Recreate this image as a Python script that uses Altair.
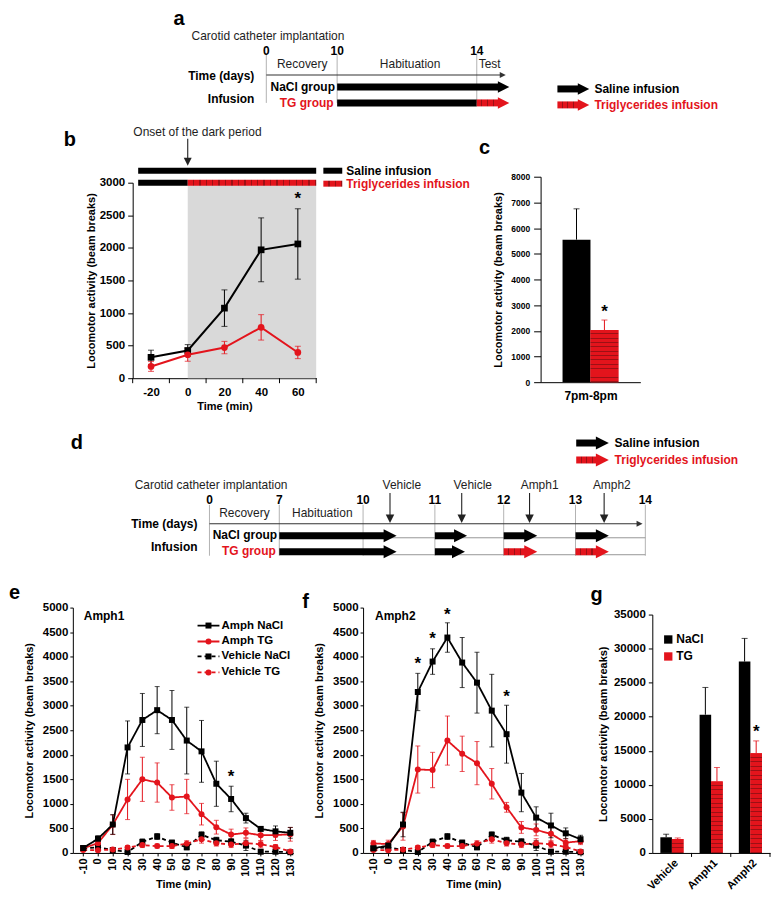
import altair as alt
import pandas as pd

RED = "#e3141c"
DARK = "#9c1015"
INK = "#1e1e1e"
FONT = "Liberation Sans"

# ======================= DATA =======================
# ---- panel a: schematic (days) ----
A_DAYS = [0, 10, 14]
A_TEXT = [  # text, day, lane, align, baseline, weight, size, colour
    ("a", -13.1, 0, "left", "top", "bold", 20, "black"),
    ("Carotid catheter implantation", -10.56, 27, "left", "middle", "normal", 12, INK),
    ("0", 0, 42, "center", "middle", "bold", 12, "black"),
    ("10", 10, 42, "center", "middle", "bold", 12, "black"),
    ("14", 14, 42, "center", "middle", "bold", 12, "black"),
    ("Recovery", 5.07, 55, "center", "middle", "normal", 12, INK),
    ("Habituation", 12.09, 55, "center", "middle", "normal", 12, INK),
    ("Test", 14.37, 55, "center", "middle", "normal", 12, INK),
    ("Time (days)", -1.69, 67, "right", "middle", "bold", 12, "black"),
    ("Infusion", -1.69, 90, "right", "middle", "bold", 12, "black"),
    ("NaCl group", 5.14, 78, "center", "middle", "bold", 12, "black"),
    ("TG group", 5.7, 94, "center", "middle", "bold", 12, RED),
    ("Saline infusion", 17.37, 80, "left", "middle", "bold", 12, "black"),
    ("Triglycerides infusion", 17.37, 96, "left", "middle", "bold", 12, RED),
]
A_GRID = [(0, 45, 94), (10, 45, 94), (14, 45, 94)]
A_TIMELINE = [(0, 14.83, 66)]
A_GUIDES = []
A_INJECT = []
A_ARROWS = [  # start, tip, lane, colour, head
    (10, 14.94, 78, "black", True),
    (10, 14, 94, "black", False),
    (14, 14.94, 94, "red", True),
    (16.31, 17.23, 80, "black", True),
    (16.31, 17.23, 96, "red", True),
]

# ---- panel d: schematic (days) ----
D_DAYS = [0, 7, 10, 11, 12, 13, 14]
D_TEXT = [
    ("d", -13.9, 61, "left", "middle", "bold", 20, "black"),
    ("Saline infusion", 13.56, 61, "left", "middle", "bold", 12, "black"),
    ("Triglycerides infusion", 13.56, 78, "left", "middle", "bold", 12, RED),
    ("Carotid catheter implantation", -7.5, 103, "left", "middle", "normal", 12, INK),
    ("Vehicle", 10.54, 103, "center", "middle", "normal", 12, INK),
    ("Vehicle", 11.55, 103, "center", "middle", "normal", 12, INK),
    ("Amph1", 12.50, 103, "center", "middle", "normal", 12, INK),
    ("Amph2", 13.52, 103, "center", "middle", "normal", 12, INK),
    ("0", 0, 118, "center", "middle", "bold", 12, "black"),
    ("7", 7, 118, "center", "middle", "bold", 12, "black"),
    ("10", 10, 118, "center", "middle", "bold", 12, "black"),
    ("11", 11, 118, "center", "middle", "bold", 12, "black"),
    ("12", 12, 118, "center", "middle", "bold", 12, "black"),
    ("13", 13, 118, "center", "middle", "bold", 12, "black"),
    ("14", 14, 118, "center", "middle", "bold", 12, "black"),
    ("Recovery", 3.5, 131, "center", "middle", "normal", 12, INK),
    ("Habituation", 8.54, 131, "center", "middle", "normal", 12, INK),
    ("Time (days)", -1.2, 142, "right", "middle", "bold", 12, "black"),
    ("NaCl group", 3.55, 153, "center", "middle", "bold", 12, "black"),
    ("Infusion", -1.2, 165, "right", "middle", "bold", 12, "black"),
    ("TG group", 3.95, 169, "center", "middle", "bold", 12, RED),
]
D_GRID = [(0, 123, 174), (7, 123, 174), (10, 123, 174), (11, 123, 174),
          (12, 123, 174), (13, 123, 174), (14, 123, 174)]
D_TIMELINE = [(0, 13.96, 142)]
D_GUIDES = [(10, 14, 156), (10, 14, 173)]
D_INJECT = [(10.375, 111, 141), (11.39, 111, 141), (12.36, 111, 141), (13.41, 111, 141)]
D_ARROWS = [
    (7, 10.46, 154, "black", True), (11, 11.46, 154, "black", True),
    (12, 12.46, 154, "black", True), (13, 13.47, 154, "black", True),
    (7, 10.46, 170, "black", True), (11, 11.43, 170, "black", True),
    (12, 12.46, 170, "red", True), (13, 13.47, 170, "red", True),
    (13.01, 13.47, 61, "black", True), (13.01, 13.47, 78, "red", True),
]

# ---- panel b ----
B_TIME = [-20, 0, 20, 40, 60]
B_TICKS = [-30, -10, 10, 30, 50, 70]
B_SALINE = [320, 425, 1075, 1970, 2060]
B_SALINE_ERR = [110, 90, 280, 490, 540]
B_TG = [180, 360, 470, 780, 395]
B_TG_ERR = [75, 100, 95, 195, 95]
B_YTICKS = [0, 500, 1000, 1500, 2000, 2500, 3000]

# ---- panel c ----
C_LABEL = "7pm-8pm"
C_GROUPS = ["Saline", "TG"]
C_VALUES = [5550, 2030]
C_ERR = [1200, 390]
C_YTICKS = [0, 1000, 2000, 3000, 4000, 5000, 6000, 7000, 8000]

# ---- panels e / f ----
EF_TIME = [-10, 0, 10, 20, 30, 40, 50, 60, 70, 80, 90, 100, 110, 120, 130]
EF_YTICKS = [0, 500, 1000, 1500, 2000, 2500, 3000, 3500, 4000, 4500, 5000]
E_AMPH_NACL = [100, 290, 580, 2150, 2710, 2910, 2710, 2290, 2070, 1410, 1100, 710, 490, 440, 410]
E_AMPH_NACL_ERR = [40, 60, 200, 540, 540, 480, 600, 680, 630, 460, 260, 100, 40, 110, 110]
E_AMPH_TG = [95, 200, 575, 1090, 1500, 1435, 1130, 1150, 790, 525, 375, 410, 360, 365, 380]
E_AMPH_TG_ERR = [40, 60, 200, 410, 450, 400, 260, 350, 220, 140, 110, 100, 110, 110, 140]
F_AMPH_NACL = [95, 150, 580, 3280, 3900, 4390, 3880, 3470, 2900, 2420, 1230, 720, 560, 400, 280]
F_AMPH_NACL_ERR = [40, 60, 250, 380, 260, 300, 510, 620, 740, 590, 390, 220, 250, 110, 80]
F_AMPH_TG = [195, 180, 540, 1700, 1690, 2290, 2020, 1830, 1410, 930, 520, 470, 390, 210, 240]
F_AMPH_TG_ERR = [60, 80, 280, 480, 360, 500, 360, 440, 310, 100, 120, 120, 150, 80, 70]
VEH_NACL = [95, 115, 60, 20, 225, 335, 210, 115, 370, 260, 230, 150, 25, 25, 15]
VEH_NACL_ERR = [30, 40, 30, 20, 60, 60, 50, 50, 60, 60, 60, 100, 20, 20, 10]
VEH_TG = [60, 55, 70, 110, 160, 140, 140, 190, 280, 200, 170, 200, 175, 120, 30]
VEH_TG_ERR = [20, 30, 30, 40, 50, 40, 50, 60, 80, 60, 60, 90, 70, 50, 20]
EF_SERIES = ["Amph NaCl", "Amph TG", "Vehicle NaCl", "Vehicle TG"]

# ---- panel g ----
G_CATS = ["Vehicle", "Amph1", "Amph2"]
G_GROUPS = ["NaCl", "TG"]
G_NACL = [2300, 20300, 28100]
G_NACL_ERR = [450, 4000, 3400]
G_TG = [2050, 10500, 14650]
G_TG_ERR = [150, 2050, 1800]
G_YTICKS = [0, 5000, 10000, 15000, 20000, 25000, 30000, 35000]

HEAD_R = "M-1,-1L1,0L-1,1Z"
HEAD_D = "M-1,-1L1,-1L0,1Z"
PLAIN = "'' + datum.value"

# layout grid (pixels): column widths and row heights; bar widths as fraction of a category slot
COL_W = [291, 290, 118]
ROW_H = [168, 206, 226, 246]
C_BAR_W = 0.28
G_BAR_W = 0.295


# ======================= HELPERS =======================
def hatch(n, vertical=True, frac=0.78):
    stops = []
    for i in range(n):
        a, b, c = i / n, (i + frac) / n, (i + 1) / n
        stops += [alt.GradientStop(color=RED, offset=a), alt.GradientStop(color=RED, offset=b),
                  alt.GradientStop(color=DARK, offset=b), alt.GradientStop(color=DARK, offset=c)]
    if vertical:
        return alt.LinearGradient(gradient="linear", stops=stops, x1=0, x2=0, y1=0, y2=1)
    return alt.LinearGradient(gradient="linear", stops=stops, x1=0, x2=1, y1=0, y2=0)


def text_layers(items, X, Y):
    df = pd.DataFrame(items, columns=["text", "x", "y", "al", "bl", "wt", "sz", "col"])
    layers = []
    keys = []
    for it in items:
        k = (it[3], it[4], it[5], it[6])
        if k not in keys:
            keys.append(k)
    for (al, bl, wt, sz) in keys:
        sub = df[(df["al"] == al) & (df["bl"] == bl) & (df["wt"] == wt) & (df["sz"] == sz)]
        sub = sub[["text", "x", "y", "col"]]
        layers.append(
            alt.Chart(sub).mark_text(align=al, baseline=bl, fontWeight=wt, fontSize=float(sz), font=FONT)
            .encode(x=X("x"), y=Y("y"), text="text:N", color=alt.Color("col:N", scale=None))
        )
    return layers


def spacer(w=1, h=1):
    return (alt.Chart(pd.DataFrame({"z": [0]})).mark_point(size=0, opacity=0)
            .encode(x=alt.value(0), y=alt.value(0)).properties(width=w, height=h))


# ======================= SCHEMATICS =======================
def schematic(days, xrange, H, texts, grid, timeline, guides, inject, arrows, head_size):
    xs = alt.Scale(domain=days, range=xrange, zero=False, nice=False)
    ys = alt.Scale(domain=[0, H], range=[0, H], zero=False, nice=False)
    X = lambda f: alt.X(f, type="quantitative", scale=xs, axis=None)
    Y = lambda f: alt.Y(f, type="quantitative", scale=ys, axis=None)
    layers = []
    gdf = pd.DataFrame(grid, columns=["x", "y", "y2"])
    layers.append(alt.Chart(gdf).mark_rule(color="#a0a0a0", strokeWidth=0.8)
                  .encode(x=X("x"), y=Y("y"), y2="y2"))
    if guides:
        hdf = pd.DataFrame(guides, columns=["x", "x2", "y"])
        layers.append(alt.Chart(hdf).mark_rule(color="#8c8c8c", strokeWidth=0.9)
                      .encode(x=X("x"), x2="x2", y=Y("y")))
    tdf = pd.DataFrame(timeline, columns=["x", "x2", "y"])
    layers.append(alt.Chart(tdf).mark_rule(color="#333333", strokeWidth=1.1, x2Offset=-5)
                  .encode(x=X("x"), x2="x2", y=Y("y")))
    layers.append(alt.Chart(tdf).mark_point(shape=HEAD_R, filled=True, size=36, opacity=1,
                                            color="#333333", xOffset=-3)
                  .encode(x=X("x2"), y=Y("y")))
    if inject:
        idf = pd.DataFrame(inject, columns=["x", "y", "y2"])
        layers.append(alt.Chart(idf).mark_rule(color="#222222", strokeWidth=1.1, y2Offset=-6)
                      .encode(x=X("x"), y=Y("y"), y2="y2"))
        layers.append(alt.Chart(idf).mark_point(shape=HEAD_D, filled=True, size=72, opacity=1,
                                                color="#222222", yOffset=-4)
                      .encode(x=X("x"), y=Y("y2")))
    adf = pd.DataFrame(arrows, columns=["x", "x2", "y", "col", "hd"])
    for col in ["black", "red"]:
        for head in [False, True]:
            sub = adf[(adf["col"] == col) & (adf["hd"] == head)][["x", "x2", "y"]]
            if len(sub) == 0:
                continue
            fill = "black" if col == "black" else hatch(4, vertical=False)
            kw = dict(fill=fill, yOffset=-3.5, y2Offset=3.5)
            if head:
                kw["x2Offset"] = -10
            layers.append(alt.Chart(sub).mark_rect(**kw)
                          .encode(x=X("x"), x2="x2", y=Y("y"), y2="y"))
            if head:
                layers.append(alt.Chart(sub).mark_point(
                    shape=HEAD_R, filled=True, size=head_size, opacity=1,
                    color=("black" if col == "black" else RED), xOffset=-6)
                    .encode(x=X("x2"), y=Y("y")))
    layers += text_layers(texts, X, Y)
    return alt.layer(*layers).properties(width=COL_W[0], height=H)


chart_a = schematic(A_DAYS, [194, 265, 405], ROW_H[0], A_TEXT, A_GRID, A_TIMELINE, A_GUIDES,
                    A_INJECT, A_ARROWS, 132)
chart_d = schematic(D_DAYS, [137, 207, 291, 363, 432, 504, 574], ROW_H[2], D_TEXT, D_GRID, D_TIMELINE,
                    D_GUIDES, D_INJECT, D_ARROWS, 169)

# ======================= PANEL b =======================
B_XS = alt.Scale(domain=[-30, 70], range=[60, 244], nice=False, zero=False)
B_YS = alt.Scale(domain=[0, 3000], range=[202, 6], nice=False, zero=False)


def bx(f):
    return alt.X(f, type="quantitative", scale=B_XS,
                 axis=alt.Axis(values=B_TIME, title="Time (min)", ticks=False, labelPadding=8,
                               titlePadding=3, labelFontSize=11.5, labelExpr=PLAIN))


def by(f):
    return alt.Y(f, type="quantitative", scale=B_YS,
                 axis=alt.Axis(values=B_YTICKS, title="Locomotor activity (beam breaks)", offset=-60,
                               tickSize=5, labelPadding=3, titlePadding=3, labelFontSize=11.5,
                               labelExpr=PLAIN))


df_b = pd.DataFrame({"t": B_TIME * 2, "v": B_SALINE + B_TG, "err": B_SALINE_ERR + B_TG_ERR,
                     "grp": ["Saline"] * 5 + ["TG"] * 5})
df_b["lo"] = df_b["v"] - df_b["err"]
df_b["hi"] = df_b["v"] + df_b["err"]
col_b = alt.Color("grp:N", scale=alt.Scale(domain=["Saline", "TG"], range=["black", RED]), legend=None)
shape_b = alt.Shape("grp:N", scale=alt.Scale(domain=["Saline", "TG"], range=["square", "circle"]),
                    legend=None)

B_DARK = pd.DataFrame({"x": [0], "x2": [70], "y": [0], "y2": [3000]})
B_BARS_BLACK = pd.DataFrame({"x": [-27, -27, 73.9], "x2": [70, 0, 84.2], "y": [3184, 3000, 3184]})
B_BAR_RED = pd.DataFrame({"x": [0], "x2": [70], "y": [3000]})
B_LEG_RED = pd.DataFrame({"x": [73.9], "x2": [84.2], "y": [2985]})
B_ONSET = pd.DataFrame({"x": [0], "y": [3673], "y2": [3260]})
B_XTICKS = pd.DataFrame({"x": B_TICKS, "y": [0] * len(B_TICKS)})
B_TEXT = [
    ("b", -67.5, 3658, "left", "middle", "bold", 20, "black"),
    ("c", 158.7, 3536, "left", "middle", "bold", 20, "black"),
    ("Onset of the dark period", 5.3, 3781, "center", "middle", "normal", 12, INK),
    ("Saline infusion", 86.4, 3184, "left", "middle", "bold", 12, "black"),
    ("Triglycerides infusion", 86.4, 2985, "left", "middle", "bold", 12, RED),
    ("*", 60, 2755, "center", "middle", "bold", 17, "black"),
]

chart_b = alt.layer(
    alt.Chart(B_DARK).mark_rect(color="#d9d9d9").encode(x=bx("x"), x2="x2", y=by("y"), y2="y2"),
    alt.Chart(B_XTICKS).mark_rule(color="black", strokeWidth=1, y2Offset=5)
    .encode(x=bx("x"), y=by("y"), y2="y"),
    alt.Chart(B_BARS_BLACK).mark_rect(color="black", yOffset=-3, y2Offset=3)
    .encode(x=bx("x"), x2="x2", y=by("y"), y2="y"),
    alt.Chart(B_BAR_RED).mark_rect(fill=hatch(20, vertical=False), yOffset=-3, y2Offset=3)
    .encode(x=bx("x"), x2="x2", y=by("y"), y2="y"),
    alt.Chart(B_LEG_RED).mark_rect(fill=hatch(3, vertical=False), yOffset=-3, y2Offset=3)
    .encode(x=bx("x"), x2="x2", y=by("y"), y2="y"),
    alt.Chart(B_ONSET).mark_rule(color="#222222", strokeWidth=1.1, y2Offset=-6)
    .encode(x=bx("x"), y=by("y"), y2="y2"),
    alt.Chart(B_ONSET).mark_point(shape=HEAD_D, filled=True, size=64, opacity=1, color="#222222",
                                  yOffset=-4).encode(x=bx("x"), y=by("y2")),
    alt.Chart(df_b).mark_rule(strokeWidth=1).encode(x=bx("t"), y=by("lo"), y2="hi", color=col_b),
    alt.Chart(df_b).mark_tick(orient="horizontal", size=6, thickness=1)
    .encode(x=bx("t"), y=by("hi"), color=col_b),
    alt.Chart(df_b).mark_tick(orient="horizontal", size=6, thickness=1)
    .encode(x=bx("t"), y=by("lo"), color=col_b),
    alt.Chart(df_b).mark_line(strokeWidth=2).encode(x=bx("t"), y=by("v"), color=col_b),
    alt.Chart(df_b).mark_point(filled=True, size=45, opacity=1)
    .encode(x=bx("t"), y=by("v"), color=col_b, shape=shape_b),
    *text_layers(B_TEXT, bx, by),
).properties(width=COL_W[0], height=202)


# ======================= grouped bars (c, g) =======================
def grouped(cats, groups, values, errs, bar_w):
    rows = []
    for gi, (grp, vals, es) in enumerate(zip(groups, values, errs)):
        for ci, (cat, v, e) in enumerate(zip(cats, vals, es)):
            x0 = ci + 0.5 + (gi - 1) * bar_w
            rows.append({"cat": cat, "grp": grp, "x0": x0, "x1": x0 + bar_w, "xm": x0 + bar_w / 2,
                         "v": v, "hi": v + e, "zero": 0})
    return pd.DataFrame(rows)


# ======================= PANEL c =======================
df_c = grouped([C_LABEL], C_GROUPS, [[C_VALUES[0]], [C_VALUES[1]]], [[C_ERR[0]], [C_ERR[1]]], C_BAR_W)
C_XS = alt.Scale(domain=[0, 1], range=[178, 278], nice=False, zero=False)
C_YS = alt.Scale(domain=[0, 8000], nice=False)


def cx(f):
    return alt.X(f, type="quantitative", scale=C_XS,
                 axis=alt.Axis(values=[0.5], title=None, ticks=False, labelFontSize=12, labelPadding=8,
                               labelExpr=f"'{C_LABEL}'"))


def cy(f):
    return alt.Y(f, type="quantitative", scale=C_YS,
                 axis=alt.Axis(values=C_YTICKS, title="Locomotor activity (beam breaks)", offset=-178,
                               labelFontSize=8.5, tickSize=7, labelPadding=4, titlePadding=7,
                               labelExpr=PLAIN))


col_c = alt.Color("grp:N", scale=alt.Scale(domain=C_GROUPS, range=["black", RED]), legend=None)
C_STAR = df_c[df_c["grp"] == "TG"][["xm"]].assign(y=2718, text="*")
chart_c = alt.layer(
    alt.Chart(df_c).mark_rule(strokeWidth=1).encode(x=cx("xm"), y=cy("v"), y2="hi", color=col_c),
    alt.Chart(df_c).mark_tick(orient="horizontal", size=6, thickness=1)
    .encode(x=cx("xm"), y=cy("hi"), color=col_c),
    alt.Chart(df_c).mark_rect().encode(x=cx("x0"), x2="x1", y=cy("v"), y2="zero", color=col_c),
    alt.Chart(df_c[df_c["grp"] == "TG"]).mark_rect(fill=hatch(12))
    .encode(x=cx("x0"), x2="x1", y=cy("v"), y2="zero"),
    alt.Chart(C_STAR).mark_text(fontSize=17, fontWeight="bold", font=FONT, color="black")
    .encode(x=cx("xm"), y=cy("y"), text="text:N"),
).properties(width=COL_W[1], height=ROW_H[1])

# ======================= PANELS e / f =======================
EF_XS = alt.Scale(domain=[-17, 132], range=[0, 221], nice=False, zero=False)
EF_YS = alt.Scale(domain=[0, 5000], nice=False, zero=False)


def ex(f):
    return alt.X(f, type="quantitative", scale=EF_XS,
                 axis=alt.Axis(values=EF_TIME, title="Time (min)", labelAngle=-90, tickSize=3,
                               labelPadding=2, titlePadding=2, labelFontSize=11, labelExpr=PLAIN))


def ey(f):
    return alt.Y(f, type="quantitative", scale=EF_YS,
                 axis=alt.Axis(values=EF_YTICKS, title="Locomotor activity (beam breaks)",
                               tickSize=3, labelPadding=2, titlePadding=8, labelFontSize=11.5,
                               labelExpr=PLAIN))


ef_col = alt.Color("s:N", scale=alt.Scale(domain=EF_SERIES, range=["black", RED, "black", RED]),
                   legend=None)
ef_err = alt.Color("s:N", scale=alt.Scale(domain=EF_SERIES, range=["#3c3c3c", RED, "#3c3c3c", RED]),
                   legend=None)
ef_shape = alt.Shape("s:N", scale=alt.Scale(domain=EF_SERIES,
                                            range=["square", "circle", "square", "circle"]), legend=None)
ef_dash = alt.StrokeDash("s:N", scale=alt.Scale(domain=EF_SERIES,
                                                range=[[1, 0], [1, 0], [4, 3], [4, 3]]), legend=None)

E_LEGEND = pd.DataFrame({"s": EF_SERIES, "y": [4634, 4309, 4004, 3679],
                         "x": [67.3] * 4, "x2": [82.1] * 4, "xm": [74.7] * 4, "xt": [83.5] * 4})
G_LEGEND = pd.DataFrame({"lab": G_GROUPS, "y": [4350, 4004], "xs": [189.3] * 2, "xt": [194.7] * 2,
                         "col": ["black", RED]})


def time_course(amph_nacl, amph_nacl_err, amph_tg, amph_tg_err, texts, legend, g_legend, width):
    rows = []
    for s, vals, errs in [("Vehicle NaCl", VEH_NACL, VEH_NACL_ERR), ("Vehicle TG", VEH_TG, VEH_TG_ERR),
                          ("Amph TG", amph_tg, amph_tg_err), ("Amph NaCl", amph_nacl, amph_nacl_err)]:
        for t, v, e in zip(EF_TIME, vals, errs):
            rows.append({"t": t, "v": v, "lo": max(v - e, 0), "hi": v + e, "s": s})
    df = pd.DataFrame(rows)
    layers = [
        alt.Chart(df).mark_rule(strokeWidth=1).encode(x=ex("t"), y=ey("lo"), y2="hi", color=ef_err),
        alt.Chart(df).mark_tick(orient="horizontal", size=5, thickness=1)
        .encode(x=ex("t"), y=ey("hi"), color=ef_err),
        alt.Chart(df).mark_tick(orient="horizontal", size=5, thickness=1)
        .encode(x=ex("t"), y=ey("lo"), color=ef_err),
        alt.Chart(df).mark_line(strokeWidth=1.8)
        .encode(x=ex("t"), y=ey("v"), color=ef_col, strokeDash=ef_dash, detail="s:N"),
        alt.Chart(df).mark_point(filled=True, size=36, opacity=1)
        .encode(x=ex("t"), y=ey("v"), color=ef_col, shape=ef_shape),
    ]
    if legend:
        layers += [
            alt.Chart(E_LEGEND).mark_rule(strokeWidth=1.8)
            .encode(x=ex("x"), x2="x2", y=ey("y"), color=ef_col, strokeDash=ef_dash),
            alt.Chart(E_LEGEND).mark_point(filled=True, size=36, opacity=1)
            .encode(x=ex("xm"), y=ey("y"), color=ef_col, shape=ef_shape),
            alt.Chart(E_LEGEND).mark_text(align="left", baseline="middle", fontWeight="bold",
                                          fontSize=11.5, font=FONT, color="black")
            .encode(x=ex("xt"), y=ey("y"), text="s:N"),
        ]
    if g_legend:
        layers += [
            alt.Chart(G_LEGEND).mark_square(size=70, opacity=1)
            .encode(x=ex("xs"), y=ey("y"), color=alt.Color("col:N", scale=None)),
            alt.Chart(G_LEGEND).mark_text(align="left", baseline="middle", fontWeight="bold",
                                          fontSize=12, font=FONT, color="black")
            .encode(x=ex("xt"), y=ey("y"), text="lab:N"),
        ]
    layers += text_layers(texts, ex, ey)
    return alt.layer(*layers).properties(width=width, height=ROW_H[3])


E_TEXT = [
    ("e", -60.2, 5305, "left", "middle", "bold", 20, "black"),
    ("Amph1", -9.6, 4837, "left", "middle", "bold", 12, "black"),
    ("*", 90, 1545, "center", "middle", "bold", 17, "black"),
]
F_TEXT = [
    ("f", -58.1, 5122, "left", "middle", "bold", 20, "black"),
    ("g", 136.7, 5264, "left", "middle", "bold", 20, "black"),
    ("Amph2", -8.9, 4837, "left", "middle", "bold", 12, "black"),
    ("*", 20, 3841, "center", "middle", "bold", 17, "black"),
    ("*", 30, 4350, "center", "middle", "bold", 17, "black"),
    ("*", 40, 4858, "center", "middle", "bold", 17, "black"),
    ("*", 80, 3171, "center", "middle", "bold", 17, "black"),
]
chart_e = time_course(E_AMPH_NACL, E_AMPH_NACL_ERR, E_AMPH_TG, E_AMPH_TG_ERR, E_TEXT, True, False,
                      COL_W[0])
chart_f = time_course(F_AMPH_NACL, F_AMPH_NACL_ERR, F_AMPH_TG, F_AMPH_TG_ERR, F_TEXT, False, True,
                      COL_W[1])

# ======================= PANEL g =======================
df_g = grouped(G_CATS, G_GROUPS, [G_NACL, G_TG], [G_NACL_ERR, G_TG_ERR], G_BAR_W)
G_XS = alt.Scale(domain=[0, len(G_CATS)], range=[0, COL_W[2]], nice=False, zero=False)
G_YS = alt.Scale(domain=[0, 35000], range=[ROW_H[3], 7], nice=False)
G_LABEL_EXPR = "[" + ",".join(f"'{c}'" for c in G_CATS) + "][floor(datum.value)]"
G_TICKS = pd.DataFrame({"x": [1, 2, 3], "y": [0, 0, 0]})


def gx(f):
    return alt.X(f, type="quantitative", scale=G_XS,
                 axis=alt.Axis(values=[0.5, 1.5, 2.5], title=None, ticks=False, labelAngle=-45,
                               labelAlign="right", labelBaseline="top", labelFontSize=11,
                               labelPadding=4, labelExpr=G_LABEL_EXPR))


def gy(f):
    return alt.Y(f, type="quantitative", scale=G_YS,
                 axis=alt.Axis(values=G_YTICKS, title="Locomotor activity (beam breaks)",
                               tickSize=4, labelPadding=3, titlePadding=5, labelFontSize=11.5,
                               labelExpr=PLAIN))


col_g = alt.Color("grp:N", scale=alt.Scale(domain=G_GROUPS, range=["black", RED]), legend=None)
g_layers = [
    alt.Chart(G_TICKS).mark_rule(color="black", strokeWidth=1, y2Offset=4)
    .encode(x=gx("x"), y=gy("y"), y2="y"),
    alt.Chart(df_g).mark_rule(strokeWidth=1).encode(x=gx("xm"), y=gy("v"), y2="hi", color=col_g),
    alt.Chart(df_g).mark_tick(orient="horizontal", size=6, thickness=1)
    .encode(x=gx("xm"), y=gy("hi"), color=col_g),
    alt.Chart(df_g).mark_rect().encode(x=gx("x0"), x2="x1", y=gy("v"), y2="zero", color=col_g),
]
for cat, n in zip(G_CATS, [3, 16, 22]):
    g_layers.append(
        alt.Chart(df_g[(df_g["grp"] == "TG") & (df_g["cat"] == cat)]).mark_rect(fill=hatch(n))
        .encode(x=gx("x0"), x2="x1", y=gy("v"), y2="zero"))
G_STAR = df_g[(df_g["grp"] == "TG") & (df_g["cat"] == "Amph2")][["xm"]].assign(y=17720, text="*")
g_layers.append(alt.Chart(G_STAR).mark_text(fontSize=17, fontWeight="bold", font=FONT, color="black")
                .encode(x=gx("xm"), y=gy("y"), text="text:N"))
chart_g = alt.layer(*g_layers).properties(width=COL_W[2], height=ROW_H[3])

# ======================= LAYOUT =======================
cells = [
    chart_a, spacer(), spacer(),
    chart_b, chart_c, spacer(),
    chart_d, spacer(), spacer(),
    chart_e, chart_f, chart_g,
]
chart = alt.concat(*cells, columns=3, spacing=0, bounds="flush", align="each").properties(padding=0)
chart = (chart.configure_view(strokeWidth=0)
         .configure_axis(grid=False, domainColor="black", tickColor="black", labelColor="black",
                         titleColor="black", labelFont=FONT, titleFont=FONT, labelFontWeight="bold",
                         titleFontWeight="bold", titleFontSize=11, domainWidth=1)
         .configure_legend(labelFont=FONT))

chart.save("out.html", embed_options={"renderer": "svg", "actions": False})
